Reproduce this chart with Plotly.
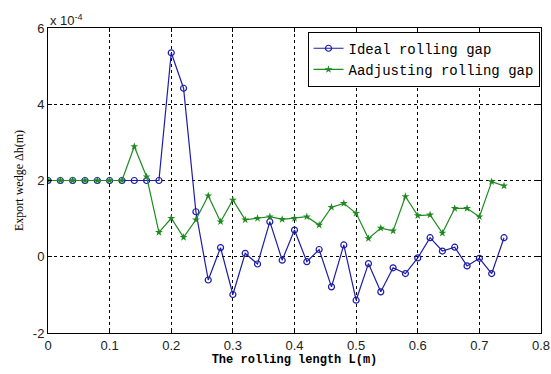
import plotly.graph_objects as go

# rolling length L (m)
length_m = [0.00, 0.02, 0.04, 0.06, 0.08, 0.10, 0.12, 0.14, 0.16, 0.18,
            0.20, 0.22, 0.24, 0.26, 0.28, 0.30, 0.32, 0.34, 0.36, 0.38,
            0.40, 0.42, 0.44, 0.46, 0.48, 0.50, 0.52, 0.54, 0.56, 0.58,
            0.60, 0.62, 0.64, 0.66, 0.68, 0.70, 0.72, 0.74]

# export wedge, in units of 1e-4 m
ideal_gap = [2.0, 2.0, 2.0, 2.0, 2.0, 2.0, 2.0, 2.0, 2.0, 2.0,
             5.35, 4.42, 1.18, -0.61, 0.24, -0.99, 0.09, -0.19, 0.92, -0.09,
             0.70, -0.13, 0.19, -0.79, 0.31, -1.14, -0.18, -0.92, -0.29, -0.44,
             -0.03, 0.50, 0.15, 0.25, -0.24, -0.04, -0.44, 0.50]

adjusting_gap = [2.0, 2.0, 2.0, 2.0, 2.0, 2.0, 2.0, 2.89, 2.10, 0.64,
                 1.01, 0.51, 0.97, 1.60, 0.92, 1.49, 0.97, 1.01, 1.05, 0.98,
                 1.01, 1.05, 0.83, 1.30, 1.40, 1.14, 0.48, 0.75, 0.68, 1.58,
                 1.08, 1.10, 0.62, 1.27, 1.27, 1.05, 1.97, 1.86]

x_ticks = [0, 0.1, 0.2, 0.3, 0.4, 0.5, 0.6, 0.7, 0.8]
x_tick_labels = ["0", "0.1", "0.2", "0.3", "0.4", "0.5", "0.6", "0.7", "0.8"]
y_ticks = [-2, 0, 2, 4, 6]
y_tick_labels = ["-2", "0", "2", "4", "6"]

blue = "#1c1ca8"
green = "#1f8a1f"

fig = go.Figure()
fig.add_trace(go.Scatter(
    x=length_m, y=ideal_gap, mode="lines+markers", name="Ideal rolling gap",
    line=dict(color=blue, width=1.2),
    marker=dict(symbol="circle-open", size=6, color=blue, line=dict(width=1.2)),
))
fig.add_trace(go.Scatter(
    x=length_m, y=adjusting_gap, mode="lines+markers", name="Aadjusting rolling gap",
    line=dict(color=green, width=1.2),
    marker=dict(symbol="star", size=6, color=green),
))

axis_common = dict(
    showline=True, linecolor="black", linewidth=1, mirror="allticks",
    ticks="inside", ticklen=4, tickcolor="black",
    showgrid=True, gridcolor="black", griddash="3px,3px", gridwidth=1,
    zeroline=False, automargin=False,
    tickfont=dict(family="Liberation Sans, Arial", size=13, color="#222"),
)

fig.update_xaxes(range=[0, 0.8], tickvals=x_ticks, ticktext=x_tick_labels,
                 title=dict(text="<b>The rolling length L(m)</b>",
                            font=dict(family="Liberation Mono", size=12, color="black"),
                            standoff=2),
                 **axis_common)
fig.update_yaxes(range=[-2, 6], tickvals=y_ticks, ticktext=y_tick_labels,
                 title=dict(text="Export wedge Δh(m)",
                            font=dict(family="Liberation Serif", size=12, color="black"),
                            standoff=6),
                 **axis_common)

fig.add_annotation(x=0, y=1, xref="paper", yref="paper", xanchor="left", yanchor="bottom",
                   text="x 10<sup>-4</sup>", showarrow=False,
                   font=dict(family="Liberation Sans, Arial", size=13, color="#222"), yshift=-2)

fig.update_layout(
    width=551, height=374,
    margin=dict(l=48, r=10, t=28, b=41, autoexpand=False),
    paper_bgcolor="white", plot_bgcolor="white",
    showlegend=True,
    legend=dict(x=0.997, y=0.988, xanchor="right", yanchor="top",
                bgcolor="white", bordercolor="black", borderwidth=1,
                font=dict(family="Liberation Mono", size=14, color="black"),
                tracegroupgap=0, itemwidth=30),
)

fig.write_html("out.html", config={"displayModeBar": False},
               post_script="document.body.style.margin='0';")
